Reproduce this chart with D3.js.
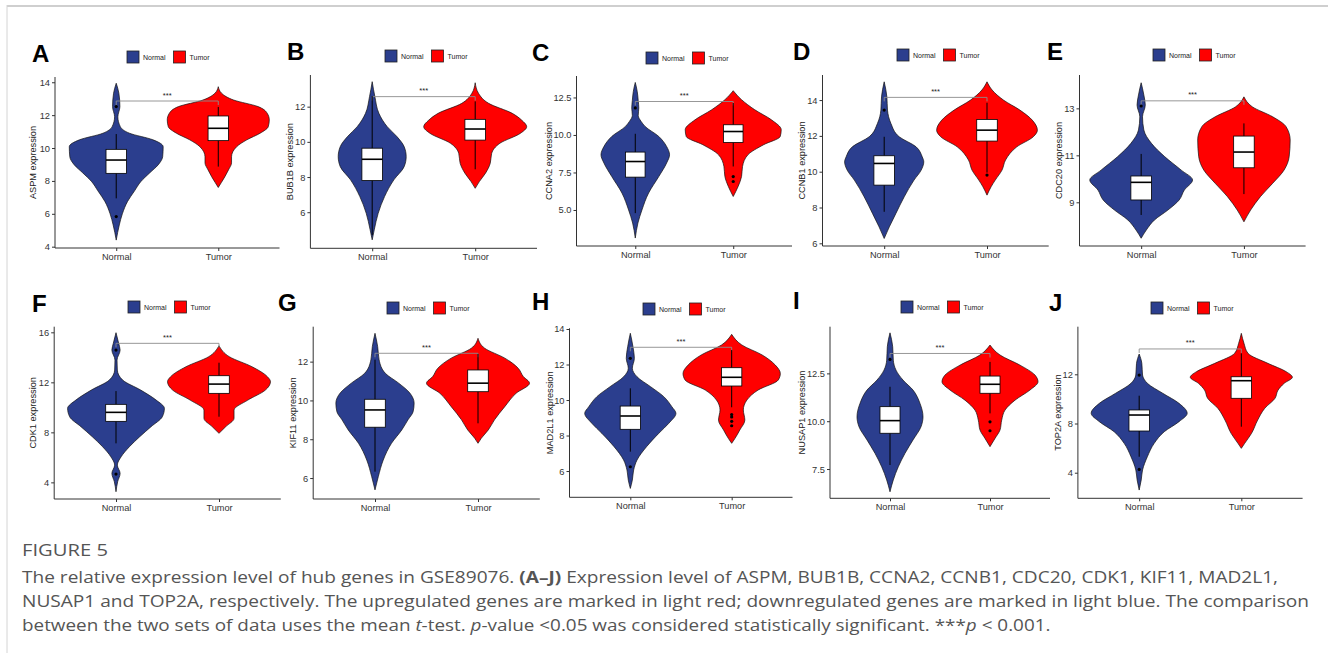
<!DOCTYPE html>
<html><head><meta charset="utf-8">
<script src="https://cdn.jsdelivr.net/npm/d3@7"></script>
<style>body{margin:0;background:#fff}svg{display:block}</style>
</head><body>
<svg id="chart" width="1328" height="653"></svg>
<script>
// ---------------- DATA ----------------
const genes = ["ASPM","BUB1B","CCNA2","CCNB1","CDC20","CDK1","KIF11","MAD2L1","NUSAP1","TOP2A"];
const panelLetters = ["A","B","C","D","E","F","G","H","I","J"];
const groups = ["Normal","Tumor"];
const yTicks = [[4,6,8,10,12,14],[6,8,10,12],[5,7.5,10,12.5],[6,8,10,12,14],[9,11,13],
                [4,8,12,16],[6,8,10,12],[6,8,10,12,14],[7.5,10,12.5],[4,8,12]];
const yTickDecimals = [0,0,1,0,0,0,0,0,1,0];
const yDomains = [[3.92,14.32],[3.95,13.8],[2.6,13.93],[5.85,15.4],[7.14,14.42],
                  [2.67,16.45],[4.92,13.8],[4.52,14.04],[5.97,14.94],[1.92,15.87]];
// violin profiles: [expression value, half width as fraction of group spacing]
const normalViolins = [
 [[13.94,0],[13.33,0.026],[12.52,0.036],[11.9,0.016],[11.3,0.04],[10.9,0.13],[10.5,0.36],[10.08,0.46],[9.47,0.455],[8.97,0.41],[8.5,0.33],[7.95,0.24],[7.4,0.18],[6.74,0.11],[6.0,0.06],[5.32,0.03],[4.4,0]],
 [[13.42,0],[12.57,0.026],[11.62,0.065],[10.86,0.146],[10.3,0.24],[9.73,0.31],[9.16,0.33],[8.59,0.31],[7.84,0.21],[6.89,0.12],[5.94,0.058],[5.0,0.02],[4.43,0]],
 [[13.5,0],[12.9,0.02],[12.3,0.03],[11.8,0.036],[11.3,0.03],[10.9,0.06],[10.57,0.1],[9.9,0.24],[9.23,0.32],[8.68,0.35],[8.13,0.32],[7.23,0.24],[6.13,0.136],[5.0,0.068],[4.13,0.027],[3.13,0]],
 [[15.02,0],[14.18,0.026],[13.44,0.032],[12.7,0.065],[11.95,0.146],[11.39,0.31],[10.83,0.37],[10.55,0.385],[10.09,0.36],[9.53,0.29],[8.6,0.195],[7.67,0.114],[6.92,0.05],[6.27,0]],
 [[14.09,0],[13.57,0.026],[13.14,0.04],[12.64,0.013],[12.08,0.026],[11.51,0.1],[10.94,0.23],[10.37,0.39],[9.95,0.5],[9.52,0.42],[9.1,0.37],[8.67,0.26],[8.25,0.13],[7.82,0.05],[7.47,0]],
 [[15.97,0],[15.12,0.026],[14.58,0.04],[13.78,0.01],[12.98,0.013],[12.18,0.065],[11.38,0.24],[10.58,0.39],[9.92,0.47],[9.25,0.45],[8.45,0.34],[7.65,0.23],[6.85,0.13],[6.05,0.05],[5.38,0.013],[4.72,0.04],[4.05,0.016],[3.25,0]],
 [[13.46,0],[12.77,0.026],[12.09,0.04],[11.4,0.1],[10.89,0.23],[10.37,0.34],[9.86,0.38],[9.42,0.37],[9.0,0.32],[8.48,0.26],[7.79,0.16],[6.93,0.08],[6.07,0.032],[5.39,0]],
 [[13.76,0],[13.0,0.026],[12.35,0.04],[11.79,0.02],[11.31,0.066],[10.75,0.2],[10.19,0.33],[9.62,0.41],[9.25,0.45],[8.69,0.38],[8.12,0.28],[7.37,0.16],[6.62,0.066],[6.06,0.033],[5.49,0.02],[5.02,0]],
 [[14.62,0],[13.89,0.027],[13.19,0.033],[12.67,0.06],[12.15,0.13],[11.63,0.23],[10.93,0.3],[10.23,0.33],[9.71,0.31],[9.02,0.23],[8.32,0.15],[7.62,0.083],[6.93,0.033],[6.31,0]],
 [[13.65,0],[12.89,0.026],[11.94,0.033],[11.27,0.08],[10.46,0.23],[9.64,0.39],[8.83,0.47],[8.15,0.39],[7.33,0.245],[6.39,0.147],[5.3,0.08],[4.22,0.033],[3.41,0.02],[2.59,0]]
];
const tumorViolins = [
 [[13.73,0],[13.33,0.033],[12.92,0.15],[12.52,0.39],[12.11,0.48],[11.71,0.5],[11.3,0.49],[10.9,0.41],[10.5,0.28],[10.08,0.18],[9.47,0.13],[9.1,0.13],[8.67,0.1],[8.26,0.065],[7.9,0.03],[7.6,0]],
 [[13.36,0],[12.76,0.032],[12.19,0.13],[11.62,0.36],[11.24,0.45],[10.86,0.5],[10.49,0.44],[9.92,0.24],[9.35,0.16],[8.78,0.146],[8.22,0.1],[7.74,0.04],[7.36,0]],
 [[12.95,0],[12.35,0.085],[11.68,0.22],[11.01,0.39],[10.35,0.49],[9.9,0.48],[9.35,0.31],[8.68,0.15],[7.9,0.095],[7.23,0.085],[6.57,0.05],[5.9,0]],
 [[15.02,0],[14.56,0.05],[14.0,0.16],[13.44,0.32],[12.88,0.44],[12.32,0.49],[11.95,0.45],[11.39,0.29],[10.65,0.18],[10.09,0.146],[9.53,0.08],[9.16,0.04],[8.69,0]],
 [[13.49,0],[13.07,0.08],[12.64,0.28],[12.22,0.41],[11.65,0.45],[10.94,0.44],[10.37,0.39],[9.81,0.28],[9.24,0.16],[8.67,0.065],[8.17,0]],
 [[14.93,0],[14.05,0.1],[13.25,0.32],[12.45,0.47],[12.05,0.5],[11.38,0.45],[10.58,0.28],[9.78,0.146],[9.12,0.146],[8.45,0.065],[7.92,0]],
 [[13.2,0],[12.69,0.065],[12.18,0.26],[11.66,0.39],[11.23,0.44],[10.89,0.5],[10.37,0.37],[9.68,0.26],[9.0,0.16],[8.48,0.1],[8.05,0.032],[7.79,0]],
 [[13.7,0],[13.1,0.1],[12.54,0.3],[11.97,0.43],[11.5,0.48],[11.13,0.46],[10.56,0.26],[10.0,0.15],[9.44,0.115],[8.87,0.13],[8.31,0.08],[7.84,0.033],[7.56,0]],
 [[13.98,0],[13.46,0.1],[12.93,0.3],[12.41,0.45],[12.06,0.48],[11.63,0.4],[11.1,0.25],[10.58,0.15],[10.06,0.117],[9.54,0.1],[9.1,0.05],[8.67,0]],
 [[15.33,0],[14.52,0.026],[13.71,0.065],[12.89,0.26],[12.21,0.44],[11.76,0.5],[11.27,0.42],[10.72,0.36],[10.05,0.33],[9.24,0.23],[8.28,0.16],[7.2,0.1],[6.39,0.033],[5.98,0]]
];
// box stats: [lower whisker, Q1, median, Q3, upper whisker]
const normalBoxes = [[6.94,8.46,9.27,9.92,10.85],[4.7,7.8,9.01,9.64,12.6],[4.79,7.19,8.23,8.86,10.08],[7.76,9.25,10.46,10.89,11.95],[8.46,9.1,9.85,10.12,11.06],
                     [7.12,8.88,9.6,10.24,11.3],[6.33,8.62,9.51,10.06,12.1],[7.09,8.35,9.1,9.66,10.66],[7.71,9.37,10.03,10.76,11.8],[5.3,7.39,8.69,9.1,10.26]];
const tumorBoxes = [[8.87,10.45,11.2,11.95,12.5],[8.44,10.1,10.73,11.28,12.3],[7.9,9.5,10.23,10.68,12.13],[9.95,11.71,12.32,12.92,13.85],[9.35,10.47,11.14,11.82,12.36],
                    [9.25,11.12,11.86,12.53,13.57],[8.82,10.45,10.89,11.57,12.4],[9.59,10.79,11.28,11.82,12.82],[10.41,11.46,11.93,12.36,13.1],[7.74,10.05,11.48,11.8,13.7]];
const normalOutliers = [[12.52,5.83],[],[11.8],[13.44],[13.1],[14.58,4.66],[],[12.35,6.24],[13.23],[11.94,4.27]];
const tumorOutliers = [[],[],[7.23,6.9],[9.81],[],[],[],[9.18,9.05,8.8,8.55],[9.97,9.5],[]];
const bracketY = [12.86,12.57,12.23,14.15,13.32,15.12,12.43,12.97,13.54,14.06];
const signifLabel = "***";

// ---------------- LAYOUT / STYLE ----------------
const layout = [
 {left:55,    right:279.5,  top:77,    bottom:248,   lx:32,   ly:62,    legX:127,  legY:51,  tx:33.3},
 {left:310.4, right:537,    top:75,    bottom:248.3, lx:287,  ly:60,    legX:385,  legY:50,  tx:290},
 {left:576.5, right:792,    top:76,    bottom:246,   lx:532,  ly:60.5,  legX:646,  legY:52,  tx:549.3},
 {left:822.5, right:1048.7, top:75,    bottom:246,   lx:793,  ly:60,    legX:897,  legY:49,  tx:802.3},
 {left:1079.5,right:1305.6, top:75,    bottom:246,   lx:1047, ly:60,    legX:1153, legY:49,  tx:1059.3},
 {left:54.2,  right:280.8,  top:326.7, bottom:499,   lx:32,   ly:311.5, legX:128,  legY:301, tx:33.3},
 {left:313.2, right:539.8,  top:326.7, bottom:499,   lx:278,  ly:311,   legX:387,  legY:302, tx:292.7},
 {left:569.5, right:792.5,  top:328.3, bottom:497.3, lx:532,  ly:310,   legX:643,  legY:303, tx:550},
 {left:830,   right:1050,   top:326.7, bottom:498.3, lx:793,  ly:309,   legX:901,  legY:301, tx:802.3},
 {left:1077.9,right:1302.6, top:326.7, bottom:498.3, lx:1049, ly:311,   legX:1151, legY:302, tx:1058.3}
];
const colors = {Normal:"#2b3e8e", Tumor:"#ff0000"};
const FONT = "'Liberation Sans', Arial, sans-serif";

const svg = d3.select("#chart");

// figure frame
svg.append("line").attr("x1",7).attr("x2",1328).attr("y1",6).attr("y2",6).attr("stroke","#cfcfcf").attr("stroke-width",2);
svg.append("line").attr("x1",7).attr("x2",7).attr("y1",5).attr("y2",653).attr("stroke","#d4d4d4").attr("stroke-width",1);

genes.forEach((gene, i) => {
  const L = layout[i];
  const g = svg.append("g");
  const x = d3.scalePoint().domain(groups).range([L.left, L.right]).padding(0.6);
  const step = x.step();
  const y = d3.scaleLinear().domain(yDomains[i]).range([L.bottom, L.top]);

  // violins
  const violins = [normalViolins[i], tumorViolins[i]];
  groups.forEach((grp, k) => {
    const cx = x(grp);
    const area = d3.area()
      .y(d => y(d[0]))
      .x0(d => cx - d[1]*step)
      .x1(d => cx + d[1]*step)
      .curve(d3.curveMonotoneY);
    g.append("path").attr("d", area(violins[k]))
      .attr("fill", colors[grp]).attr("stroke","#111").attr("stroke-width",0.7);
  });

  // significance bracket
  const by = y(bracketY[i]);
  const bx1 = x("Normal"), bx2 = x("Tumor");
  g.append("path")
    .attr("d", `M${bx1},${by+4}V${by}H${bx2}V${by+4}`)
    .attr("fill","none").attr("stroke","#8c8c8c").attr("stroke-width",0.9);
  g.append("text").attr("x",(bx1+bx2)/2).attr("y",by-3.5).attr("text-anchor","middle")
    .attr("font-family",FONT).attr("font-size",7.5).attr("fill","#222").text(signifLabel);

  // boxplots
  const boxes = [normalBoxes[i], tumorBoxes[i]];
  const outs = [normalOutliers[i], tumorOutliers[i]];
  groups.forEach((grp, k) => {
    const cx = x(grp), b = boxes[k], bw = 0.2*step;
    g.append("line").attr("x1",cx).attr("x2",cx).attr("y1",y(b[0])).attr("y2",y(b[4]))
      .attr("stroke","#000").attr("stroke-width",1);
    g.append("rect").attr("x",cx-bw/2).attr("width",bw).attr("y",y(b[3])).attr("height",y(b[1])-y(b[3]))
      .attr("fill","#fff").attr("stroke","#000").attr("stroke-width",0.8);
    g.append("line").attr("x1",cx-bw/2).attr("x2",cx+bw/2).attr("y1",y(b[2])).attr("y2",y(b[2]))
      .attr("stroke","#000").attr("stroke-width",1.6);
    outs[k].forEach(v => {
      g.append("circle").attr("cx",cx).attr("cy",y(v)).attr("r",1.6).attr("fill","#000");
    });
  });

  // axes
  const fmt = yTickDecimals[i] ? d3.format(".1f") : d3.format("d");
  const yAxis = g.append("g").attr("transform",`translate(${L.left},0)`)
    .call(d3.axisLeft(y).tickValues(yTicks[i]).tickFormat(fmt).tickSize(3).tickPadding(2));
  yAxis.select(".domain").attr("d",`M0,${L.top}V${L.bottom}`).attr("stroke","#333").attr("stroke-width",1);
  yAxis.selectAll(".tick line").attr("stroke","#333");
  yAxis.selectAll("text").attr("font-family",FONT).attr("font-size",9.3).attr("fill","#333");

  const xAxis = g.append("g").attr("transform",`translate(0,${L.bottom})`)
    .call(d3.axisBottom(x).tickSize(3).tickPadding(2));
  xAxis.select(".domain").attr("d",`M${L.left},0H${L.right}`).attr("stroke","#333").attr("stroke-width",1);
  xAxis.selectAll(".tick line").attr("stroke","#333");
  xAxis.selectAll("text").attr("font-family",FONT).attr("font-size",9.2).attr("fill","#333");

  // y title
  g.append("text").attr("transform",`translate(${L.tx},${(L.top+L.bottom)/2}) rotate(-90)`)
    .attr("text-anchor","middle").attr("dominant-baseline","central")
    .attr("font-family",FONT).attr("font-size",9.2).attr("fill","#222").text(gene + " expression");

  // panel letter
  g.append("text").attr("x",L.lx).attr("y",L.ly).attr("font-family",FONT).attr("font-weight","bold")
    .attr("font-size",24).attr("fill","#000").text(panelLetters[i]);

  // legend
  groups.forEach((grp, k) => {
    const lx = L.legX + k*46.5;
    g.append("rect").attr("x",lx).attr("y",L.legY).attr("width",12).attr("height",12)
      .attr("fill",colors[grp]).attr("stroke","#222").attr("stroke-width",0.8);
    g.append("text").attr("x",lx+16).attr("y",L.legY+6).attr("dominant-baseline","central")
      .attr("font-family",FONT).attr("font-size",7).attr("fill","#222").text(grp);
  });
});

// ---------------- CAPTION ----------------
const CAP = "'Open Sans', 'Noto Sans', sans-serif";
const capColor = "#555555";
function fitText(t, x, yPos, target) {
  const w = t.node().getComputedTextLength();
  t.attr("x", 0).attr("y", 0)
   .attr("transform", `translate(${x},${yPos}) scale(${target / w},1)`);
}
const fig = svg.append("text").attr("font-family",CAP).attr("font-size",17)
  .attr("fill",capColor).text("FIGURE 5");
fitText(fig, 22, 556, 86);

const captionLines = [
  [["The relative expression level of hub genes in GSE89076. ",""],["(A–J)","b"],[" Expression level of ASPM, BUB1B, CCNA2, CCNB1, CDC20, CDK1, KIF11, MAD2L1,",""]],
  [["NUSAP1 and TOP2A, respectively. The upregulated genes are marked in light red; downregulated genes are marked in light blue. The comparison",""]],
  [["between the two sets of data uses the mean ",""],["t","i"],["-test. ",""],["p","i"],["-value <0.05 was considered statistically significant. ***",""],["p","i"],[" < 0.001.",""]]
];
const captionTargets = [1255, 1286, 1028];
const capY = [583, 607, 631];
captionLines.forEach((parts, li) => {
  const t = svg.append("text").attr("font-family",CAP).attr("font-size",16.8)
    .attr("font-weight",400).attr("fill",capColor);
  parts.forEach(([s, st]) => {
    const ts = t.append("tspan").text(s);
    if (st === "b") ts.attr("font-weight","bold");
    if (st === "i") ts.attr("font-style","italic");
  });
  fitText(t, 22, capY[li], captionTargets[li]);
});
</script>
</body></html>
